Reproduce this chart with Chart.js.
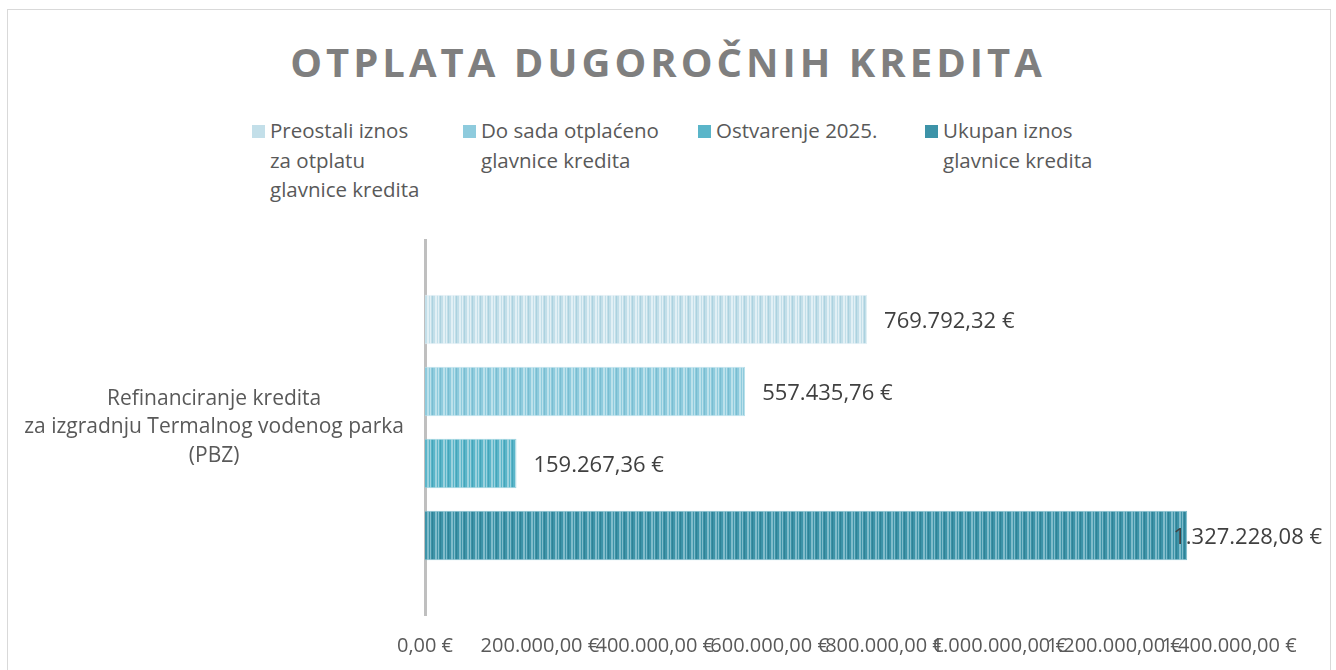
<!DOCTYPE html>
<html>
<head>
<meta charset="utf-8">
<script src="https://cdn.jsdelivr.net/npm/chart.js@4.4.1/dist/chart.umd.min.js"></script>
<style>
  html, body { margin: 0; padding: 0; background: #fff; overflow: hidden; }
  body { width: 1336px; height: 670px; position: relative; font-family: "Open Sans", sans-serif; }
  #frame { position: absolute; left: 7px; top: 9px; width: 1322px; height: 700px; border: 1px solid #d9d9d9; }
  #title { position: absolute; left: 0; top: 34px; width: 1336px; text-align: center; font-weight: bold;
           font-size: 40px; letter-spacing: 4px; color: #7f7f7f; line-height: 56px; }
  .leg { position: absolute; top: 116px; font-size: 20.5px; line-height: 29.5px; color: #595959; }
  .leg i { position: absolute; left: -18px; top: 9px; width: 13px; height: 13px; }
  #chart { position: absolute; left: 0; top: 0; }
</style>
</head>
<body>
<div id="frame"></div>
<div id="title">OTPLATA DUGOROČNIH KREDITA</div>
<div id="legend"></div>
<canvas id="chart" width="1336" height="670"></canvas>
<script>
const categories = [['Refinanciranje kredita', 'za izgradnju Termalnog vodenog parka', '(PBZ)']];
const seriesNames = [
  ['Preostali iznos', 'za otplatu', 'glavnice kredita'],
  ['Do sada otplaćeno', 'glavnice kredita'],
  ['Ostvarenje 2025.'],
  ['Ukupan iznos', 'glavnice kredita']
];
const preostali = [769792.32];
const doSada = [557435.76];
const ostvarenje = [159267.36];
const ukupan = [1327228.08];
const xTicks = [0, 200000, 400000, 600000, 800000, 1000000, 1200000, 1400000];

// base / light / dark shades for the striped fill
const shades = [
  ['#c3dfe9', '#e2f0f5', '#acd2df'],
  ['#8ecbdd', '#bce1eb', '#79bdd1'],
  ['#5ab5c9', '#9bd2de', '#44a5ba'],
  ['#3d93a8', '#80bccb', '#2f8296']
];
const legendX = [270, 481, 716, 943];

function fmt(v) {
  const parts = v.toFixed(2).split('.');
  return parts[0].replace(/\B(?=(\d{3})+(?!\d))/g, '.') + ',' + parts[1] + ' €';
}

function stripes(s) {
  const c = document.createElement('canvas');
  c.width = 8; c.height = 4;
  const g = c.getContext('2d');
  g.fillStyle = s[0]; g.fillRect(0, 0, 8, 4);
  g.fillStyle = s[2]; g.fillRect(0, 0, 1, 4);
  g.fillStyle = s[1]; g.fillRect(3, 0, 2, 4);
  g.fillStyle = s[1]; g.fillRect(6, 0, 1, 4);
  return g.createPattern(c, 'repeat');
}

// legend
const legendEl = document.getElementById('legend');
seriesNames.forEach((name, i) => {
  const d = document.createElement('div');
  d.className = 'leg';
  d.style.left = legendX[i] + 'px';
  d.innerHTML = '<i style="background:' + shades[i][0] + '"></i>' + name.join('<br>');
  legendEl.appendChild(d);
});

const valueLabels = {
  id: 'valueLabels',
  afterDatasetsDraw(chart) {
    const ctx = chart.ctx;
    ctx.save();
    ctx.font = '22px "Open Sans"';
    ctx.fillStyle = '#404040';
    ctx.textBaseline = 'middle';
    chart.data.datasets.forEach((ds, i) => {
      chart.getDatasetMeta(i).data.forEach((bar, j) => {
        const txt = fmt(ds.data[j]);
        const w = ctx.measureText(txt).width;
        let x = bar.x + 17;
        if (x + w > chart.width - 14) x = chart.width - 14 - w;
        ctx.fillText(txt, x, bar.y + 2);
      });
    });
    ctx.restore();
  }
};

const allSeries = [preostali, doSada, ostvarenje, ukupan];

new Chart(document.getElementById('chart'), {
  type: 'bar',
  data: {
    labels: categories,
    datasets: allSeries.map((data, i) => ({
      label: seriesNames[i].join(' '),
      data,
      backgroundColor: stripes(shades[i]),
      borderColor: shades[i][1],
      borderWidth: 1,
      categoryPercentage: 0.768,
      barPercentage: 0.69
    }))
  },
  plugins: [valueLabels],
  options: {
    indexAxis: 'y',
    responsive: false,
    animation: false,
    layout: { padding: { top: 240, right: 107, bottom: 0, left: 0 } },
    plugins: {
      legend: { display: false },
      title: { display: false },
      tooltip: { enabled: false }
    },
    scales: {
      x: {
        min: 0,
        max: 1400000,
        afterBuildTicks: (axis) => { axis.ticks = xTicks.map(v => ({ value: v })); },
        afterFit: (axis) => { axis.height = 55; },
        grid: { display: false, drawTicks: false },
        border: { display: false },
        ticks: {
          autoSkip: false,
          maxRotation: 0,
          padding: 19,
          color: '#595959',
          font: { family: 'Open Sans', size: 20 },
          callback: (v) => fmt(v)
        }
      },
      y: {
        afterFit: (axis) => {
          axis.width = 425;
          axis.paddingTop = 0;
          axis.paddingBottom = 0;
        },
        grid: { display: false, drawTicks: false },
        border: { display: true, color: '#bfbfbf', width: 3 },
        ticks: {
          crossAlign: 'center',
          padding: 21,
          color: '#595959',
          font: { family: 'Open Sans', size: 21, lineHeight: 1.36 }
        }
      }
    }
  }
});
</script>
</body>
</html>
